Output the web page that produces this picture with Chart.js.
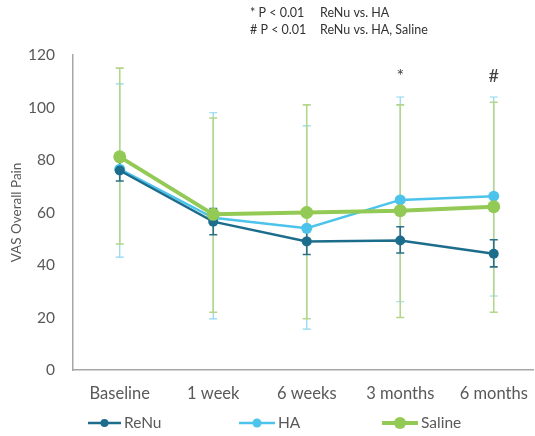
<!DOCTYPE html>
<html lang="en">
<head>
    <meta charset="UTF-8">
    <title>VAS Overall Pain</title>
    <script src="https://cdn.jsdelivr.net/npm/chart.js"></script>
    <style>
        html, body {
            margin: 0;
            padding: 0;
            background: white;
            overflow: hidden;
        }
        #wrap {
            width: 535px;
            height: 436px;
        }
    </style>
</head>
<body>
<div id="wrap"><canvas id="myChart" width="535" height="436"></canvas></div>

<script>
    // data
    var timeLabels = ['Baseline', '1 week', '6 weeks', '3 months', '6 months'];
    var yTicks = [0, 20, 40, 60, 80, 100, 120];

    var renuMean = [76, 56.5, 49, 49.3, 44.3];
    var renuLow  = [72, 51.5, 44, 44.6, 39.3];
    var renuHigh = [80, 61.5, 54, 54.6, 49.6];

    var haMean = [76.5, 58, 54, 64.8, 66.2];
    var haLow  = [43, 19.5, 15.6, 26, 28.2];
    var haHigh = [109, 98, 93, 104, 104];

    var salineMean = [81.2, 59.3, 60, 60.7, 62.2];
    var salineLow  = [48, 22, 19.5, 20, 22];
    var salineHigh = [115, 96, 101, 101, 102];

    var sigMarks = ['', '', '', '*', '#'];
    var sigLevel = 112;

    var footnotes = [
        ['* P < 0.01', 'ReNu vs. HA'],
        ['# P < 0.01', 'ReNu vs. HA, Saline']
    ];

    var renuColor = '#1c6d8c';
    var haColor = '#4cc3ea';
    var salineColor = '#93c955';

    function toPoints(arr) {
        return arr.map(function (v, i) { return { x: i, y: v }; });
    }

    // error bars drawn before the lines, in the order HA, Saline, ReNu
    var errorBars = {
        id: 'errorBars',
        beforeDatasetsDraw: function (chart) {
            var ctx = chart.ctx;
            var xs = chart.scales.x, ys = chart.scales.y;
            var sets = [
                { lo: haLow, hi: haHigh, color: '#8fd6ef', width: 1.2 },
                { lo: salineLow, hi: salineHigh, color: '#b3d68a', width: 1.6 },
                { lo: renuLow, hi: renuHigh, color: '#2c6f88', width: 1.6 }
            ];
            ctx.save();
            sets.forEach(function (s) {
                ctx.strokeStyle = s.color;
                ctx.lineWidth = s.width;
                for (var i = 0; i < timeLabels.length; i++) {
                    var x = xs.getPixelForValue(i);
                    var y1 = ys.getPixelForValue(s.lo[i]);
                    var y2 = ys.getPixelForValue(s.hi[i]);
                    ctx.beginPath();
                    ctx.moveTo(x, y1); ctx.lineTo(x, y2);
                    ctx.moveTo(x - 4, y1); ctx.lineTo(x + 4, y1);
                    ctx.moveTo(x - 4, y2); ctx.lineTo(x + 4, y2);
                    ctx.stroke();
                }
            });
            ctx.restore();
        },
        afterDraw: function (chart) {
            var ctx = chart.ctx;
            var xs = chart.scales.x, ys = chart.scales.y;
            ctx.save();
            // significance marks
            ctx.fillStyle = '#404040';
            ctx.font = '18px Lato';
            ctx.textAlign = 'center';
            ctx.textBaseline = 'middle';
            for (var i = 0; i < sigMarks.length; i++) {
                if (sigMarks[i]) {
                    ctx.fillText(sigMarks[i], xs.getPixelForValue(i), ys.getPixelForValue(sigLevel));
                }
            }
            // footnotes at the top
            ctx.font = '12.5px Lato';
            ctx.textAlign = 'left';
            ctx.fillStyle = '#333333';
            footnotes.forEach(function (f, k) {
                ctx.fillText(f[0], 250, 13 + k * 17);
                ctx.fillText(f[1], 320, 13 + k * 17);
            });
            // legend with line + dot markers
            var items = [
                { label: 'ReNu', color: renuColor, x: 88, w: 33, r: 4, lw: 2.5 },
                { label: 'HA', color: haColor, x: 239, w: 36, r: 4.5, lw: 2.5 },
                { label: 'Saline', color: salineColor, x: 382, w: 36, r: 6, lw: 4 }
            ];
            var ly = 423;
            ctx.font = '15.5px Lato';
            items.forEach(function (it) {
                ctx.strokeStyle = it.color;
                ctx.lineWidth = it.lw;
                ctx.beginPath();
                ctx.moveTo(it.x, ly); ctx.lineTo(it.x + it.w, ly);
                ctx.stroke();
                ctx.fillStyle = it.color;
                ctx.beginPath();
                ctx.arc(it.x + it.w / 2, ly, it.r, 0, Math.PI * 2);
                ctx.fill();
                ctx.fillStyle = '#595959';
                ctx.fillText(it.label, it.x + it.w + 3, ly);
            });
            ctx.restore();
        }
    };

    var ctx = document.getElementById('myChart').getContext('2d');
    var myChart = new Chart(ctx, {
        type: 'line',
        data: {
            datasets: [{
                label: 'ReNu',
                data: toPoints(renuMean),
                borderColor: renuColor,
                backgroundColor: renuColor,
                borderWidth: 2.5,
                pointRadius: 5,
                pointBorderWidth: 0,
                order: 1
            }, {
                label: 'HA',
                data: toPoints(haMean),
                borderColor: haColor,
                backgroundColor: haColor,
                borderWidth: 2.5,
                pointRadius: 5.5,
                pointBorderWidth: 0,
                order: 2
            }, {
                label: 'Saline',
                data: toPoints(salineMean),
                borderColor: salineColor,
                backgroundColor: salineColor,
                borderWidth: 4,
                pointRadius: 6.5,
                pointBorderWidth: 0,
                order: 0
            }]
        },
        options: {
            responsive: false,
            animation: false,
            layout: {
                autoPadding: false,
                padding: { top: 55, right: 2, bottom: 33, left: 0 }
            },
            plugins: {
                legend: { display: false },
                tooltip: { enabled: false }
            },
            scales: {
                x: {
                    type: 'linear',
                    min: -0.5,
                    max: 4.42,
                    afterBuildTicks: function (axis) {
                        axis.ticks = timeLabels.map(function (_, i) { return { value: i }; });
                    },
                    afterFit: function (axis) {
                        axis.height = 33;
                        axis.paddingLeft = 0;
                        axis.paddingRight = 0;
                    },
                    grid: { display: false, drawTicks: false },
                    border: { display: true, color: '#a6a6a6', width: 1.5 },
                    ticks: {
                        padding: 14,
                        color: '#595959',
                        font: { family: 'Lato', size: 16.5 },
                        maxRotation: 0,
                        autoSkip: false,
                        callback: function (v) { return timeLabels[v]; }
                    }
                },
                y: {
                    min: 0,
                    max: 120,
                    afterBuildTicks: function (axis) {
                        axis.ticks = yTicks.map(function (v) { return { value: v }; });
                    },
                    afterFit: function (axis) { axis.width = 73; },
                    grid: { display: false, drawTicks: false },
                    border: { display: true, color: '#a6a6a6', width: 1.5 },
                    ticks: {
                        padding: 18,
                        color: '#595959',
                        font: { family: 'Lato', size: 15.5 }
                    },
                    title: {
                        display: true,
                        text: 'VAS Overall Pain',
                        color: '#595959',
                        font: { family: 'Lato', size: 13.5 },
                        padding: { top: 9, bottom: 4 }
                    }
                }
            }
        },
        plugins: [errorBars]
    });
</script>
</body>
</html>
